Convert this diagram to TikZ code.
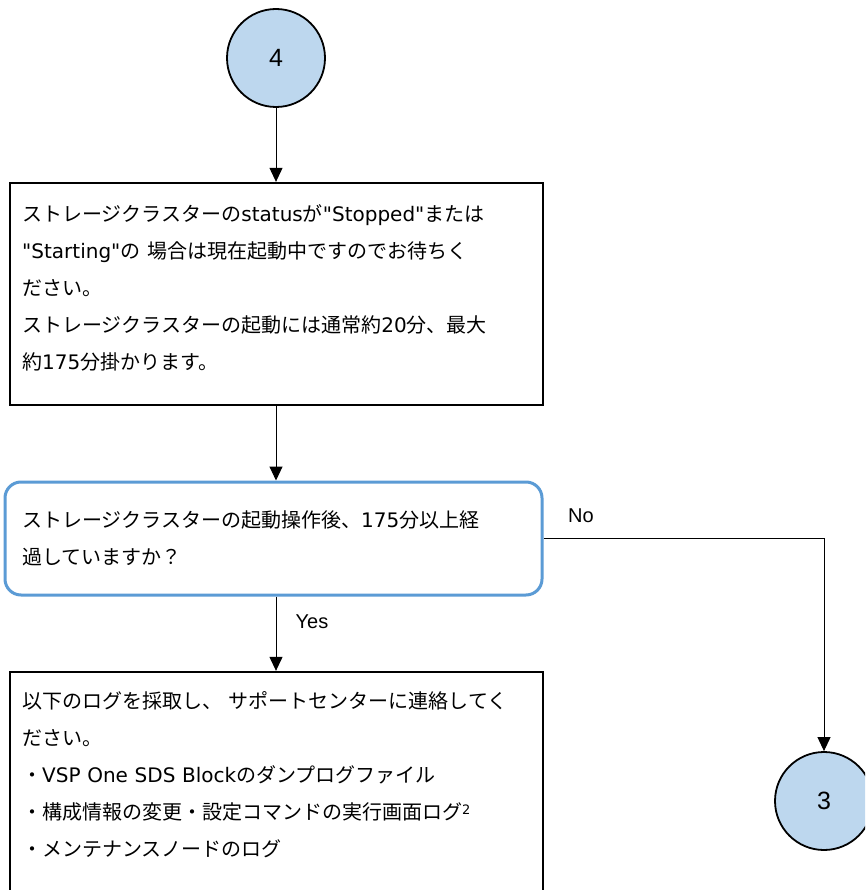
\documentclass[tikz,border=0pt]{standalone}
\usepackage{fontspec}
\setmainfont{Noto Sans CJK JP}
\newfontfamily\lat{DejaVu Sans}
\newfontfamily\arial{Liberation Sans}
\usetikzlibrary{arrows.meta}
\definecolor{cfill}{HTML}{BDD7EE}
\definecolor{dblue}{HTML}{5B9BD5}
\begin{document}
\begin{tikzpicture}[x=1pt,y=-1pt,
  circ/.style={circle,draw=black,line width=1.8pt,fill=cfill,minimum size=98pt,inner sep=0pt,font=\arial\fontsize{25}{25}\selectfont},
  boxshape/.style={draw=black,line width=2.3pt,inner sep=0pt,minimum width=533pt,minimum height=222pt},
  txt/.style={align=left,inner sep=0pt,text width=515pt,font=\fontsize{20}{37}\selectfont},
  dec/.style={draw=dblue,line width=3pt,rounded corners=16pt,minimum width=537pt,minimum height=113pt,inner xsep=17pt,inner ysep=0pt,text width=503pt,align=left,font=\fontsize{20}{37}\selectfont},
  arr/.style={draw=black,line width=1pt,-{Triangle[length=14pt,width=13pt]}},
  lbl/.style={inner sep=0pt,font=\arial\fontsize{20}{20}\selectfont}]
\useasboundingbox (0,0) rectangle (865,890);
\clip (0,0) rectangle (865,890);
\fill[white] (0,0) rectangle (865,890);

\node[circ] (c4) at (276,58) {4};
\node[boxshape] (b1) at (276.5,294) {};
\node[txt,anchor=base west] (t1) at (22,222) {ストレージクラスターの{\lat status}が{\lat "Stopped"}または\\
{\lat "Starting"}の 場合は現在起動中ですのでお待ちく\\
ださい。\\
ストレージクラスターの起動には通常約{\lat 20}分、最大\\
約{\lat 175}分掛かります。};

\node[dec] (d) at (273.5,538.5) {ストレージクラスターの起動操作後、{\lat 175}分以上経\\
過していますか？};

\node[boxshape] (b2) at (276.5,783) {};
\node[txt,anchor=base west] (t2) at (22,708) {以下のログを採取し、 サポートセンターに連絡してく\\
ださい。\\
・{\lat VSP One SDS Block}のダンプログファイル\\
・構成情報の変更・設定コマンドの実行画面ログ\raisebox{5pt}{\lat\fontsize{13}{13}\selectfont 2}\\
・メンテナンスノードのログ};

\node[circ] (c3) at (824,801) {3};

\node[lbl] (yes) at (312,622) {Yes};
\node[lbl] (no) at (581,516) {No};

\draw[arr] (c4.south) -- (c4.south |- b1.north);
\draw[arr] (c4.south |- b1.south) -- (c4.south |- d.north);
\draw[arr] (c4.south |- d.south) -- (c4.south |- b2.north);
\draw[arr] (d.east) -| (c3.north);
\end{tikzpicture}
\end{document}
